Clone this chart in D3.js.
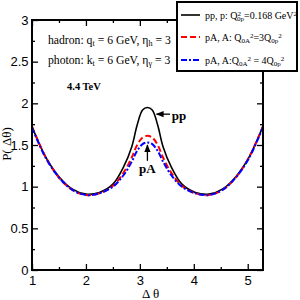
<!DOCTYPE html>
<html>
<head>
<meta charset="utf-8">
<script src="https://cdn.jsdelivr.net/npm/d3@7"></script>
<style>
  body { margin: 0; background: #fff; }
  svg { font-family: "Liberation Serif", "Times New Roman", serif; }
</style>
</head>
<body>
<svg id="chart" width="300" height="300"></svg>
<script>
// delta theta sample points
var dtheta = [1.0, 1.25, 1.5, 1.75, 2.0, 2.25, 2.5, 2.7, 2.85, 2.95, 3.05, 3.14,
              3.23, 3.33, 3.43, 3.58, 3.78, 4.03, 4.28, 4.53, 4.78, 5.03, 5.28];
var ppVals = [1.72, 1.36, 1.12, 0.97, 0.91, 0.93, 1.03, 1.24, 1.48, 1.74, 1.92, 1.95,
              1.92, 1.74, 1.48, 1.24, 1.03, 0.93, 0.91, 0.97, 1.12, 1.36, 1.72];
var pA3Vals = [1.72, 1.36, 1.11, 0.96, 0.90, 0.92, 1.01, 1.17, 1.35, 1.50, 1.59, 1.61,
               1.59, 1.50, 1.35, 1.17, 1.01, 0.92, 0.90, 0.96, 1.11, 1.36, 1.72];
var pA4Vals = [1.71, 1.35, 1.11, 0.96, 0.90, 0.92, 1.00, 1.14, 1.30, 1.43, 1.51, 1.53,
               1.51, 1.43, 1.30, 1.14, 1.00, 0.92, 0.90, 0.96, 1.11, 1.35, 1.71];
var xTicks = [1, 2, 3, 4, 5];
var yTicks = [0, 0.5, 1, 1.5, 2, 2.5, 3];

var svg = d3.select("#chart");
var margin = {top: 20, right: 37, bottom: 30, left: 32};
var width = 300 - margin.left - margin.right;
var height = 300 - margin.top - margin.bottom;
var g = svg.append("g").attr("transform", "translate(" + margin.left + "," + margin.top + ")");

var x = d3.scaleLinear().domain([1, 2 * Math.PI - 1]).range([0, width]);
var y = d3.scaleLinear().domain([0, 3]).range([height, 0]);

var series = [
    {vals: ppVals, color: "#000", dash: null, w: 1.6},
    {vals: pA3Vals, color: "#ff0000", dash: "6,3", w: 2},
    {vals: pA4Vals, color: "#0000ff", dash: "6,2,2,2", w: 2}
];

var line = d3.line()
    .x(function (d) { return x(d[0]); })
    .y(function (d) { return y(d[1]); })
    .curve(d3.curveCatmullRom.alpha(0.5));

g.append("defs").append("clipPath").attr("id", "clip")
    .append("rect").attr("width", width).attr("height", height);

series.forEach(function (s) {
    g.append("path")
        .datum(dtheta.map(function (t, i) { return [t, s.vals[i]]; }))
        .attr("clip-path", "url(#clip)")
        .attr("fill", "none")
        .attr("stroke", s.color)
        .attr("stroke-width", s.w)
        .attr("stroke-dasharray", s.dash)
        .attr("d", line);
});

// axes: ticks inside on all four sides
var xMinor = d3.range(1.5, 5.3, 1);
var yMinor = d3.range(0.25, 3, 0.5);

function tickStyle(sel) {
    sel.select(".domain").remove();
    sel.selectAll("line").attr("stroke", "#000").attr("stroke-width", 1.3);
    sel.selectAll("text").style("font-size", "13px").attr("fill", "#000");
}

g.append("g").attr("transform", "translate(0," + height + ")")
    .call(d3.axisBottom(x).tickValues(xTicks).tickSize(-6).tickPadding(6).tickFormat(d3.format("d")))
    .call(tickStyle);
g.append("g").attr("transform", "translate(0," + height + ")")
    .call(d3.axisBottom(x).tickValues(xMinor).tickSize(-3).tickFormat(""))
    .call(tickStyle);
g.append("g")
    .call(d3.axisTop(x).tickValues(xTicks).tickSize(-6).tickFormat(""))
    .call(tickStyle);
g.append("g")
    .call(d3.axisTop(x).tickValues(xMinor).tickSize(-3).tickFormat(""))
    .call(tickStyle);
g.append("g")
    .call(d3.axisLeft(y).tickValues(yTicks).tickSize(-6).tickPadding(3.5).tickFormat(d3.format("")))
    .call(tickStyle);
g.append("g")
    .call(d3.axisLeft(y).tickValues(yMinor).tickSize(-3).tickFormat(""))
    .call(tickStyle);
g.append("g").attr("transform", "translate(" + width + ",0)")
    .call(d3.axisRight(y).tickValues(yTicks).tickSize(-6).tickFormat(""))
    .call(tickStyle);
g.append("g").attr("transform", "translate(" + width + ",0)")
    .call(d3.axisRight(y).tickValues(yMinor).tickSize(-3).tickFormat(""))
    .call(tickStyle);

g.append("rect")
    .attr("width", width).attr("height", height)
    .attr("fill", "none").attr("stroke", "#000").attr("stroke-width", 2);

// axis titles
svg.append("text")
    .attr("transform", "translate(11," + (margin.top + height / 2 - 1) + ") rotate(-90)")
    .attr("text-anchor", "middle")
    .style("font-size", "13px")
    .text("P( \u0394\u03b8)");
svg.append("text")
    .attr("x", margin.left + x(3.2))
    .attr("y", 298)
    .attr("text-anchor", "middle")
    .style("font-size", "13px")
    .text("\u0394 \u03b8");

// annotations
function subText(parent, xp, yp, parts, size) {
    var t = parent.append("text").attr("x", xp).attr("y", yp).style("font-size", size + "px");
    parts.forEach(function (p) {
        var ts = t.append("tspan").text(p[0]);
        if (p[1] === "sub") ts.attr("baseline-shift", "-30%").style("font-size", (size * 0.7) + "px");
        if (p[1] === "sup") ts.attr("baseline-shift", "45%").style("font-size", (size * 0.7) + "px");
        if (p[2] !== undefined) ts.attr("dx", p[2]);
    });
    return t;
}

subText(g, 16, 24, [["hadron: q"], ["t", "sub"], [" = 6 GeV, \u03b7"], ["h", "sub"], [" = 3"]], 11.7);
subText(g, 16, 44, [["photon: k"], ["t", "sub"], [" = 6 GeV, \u03b7"], ["\u03b3", "sub"], [" = 3"]], 11.7);
g.append("text").attr("x", 35).attr("y", 70)
    .style("font-size", "10.5px").style("font-weight", "bold").text("4.4 TeV");

// peak labels with arrows
svg.append("defs").append("marker")
    .attr("id", "arrow").attr("viewBox", "0 0 10 10")
    .attr("refX", 9).attr("refY", 5)
    .attr("markerWidth", 6).attr("markerHeight", 6)
    .attr("orient", "auto")
    .append("path").attr("d", "M0,1 L10,5 L0,9 z").attr("fill", "#000");

g.append("line")
    .attr("x1", x(3.56)).attr("y1", y(1.87))
    .attr("x2", x(3.31)).attr("y2", y(1.87))
    .attr("stroke", "#000").attr("stroke-width", 1.3)
    .attr("marker-end", "url(#arrow)");
g.append("text").attr("x", x(3.59)).attr("y", y(1.80))
    .style("font-size", "13px").style("font-weight", "bold").text("pp");

g.append("line")
    .attr("x1", x(3.14)).attr("y1", y(1.31))
    .attr("x2", x(3.14)).attr("y2", y(1.50))
    .attr("stroke", "#000").attr("stroke-width", 1.3)
    .attr("marker-end", "url(#arrow)");
g.append("text").attr("x", x(3.14)).attr("y", y(1.17))
    .attr("text-anchor", "middle")
    .style("font-size", "13px").style("font-weight", "bold").text("pA");

// legend
var lg = svg.append("g");
lg.append("rect")
    .attr("x", 177).attr("y", 2).attr("width", 120).attr("height", 69)
    .attr("fill", "#fff").attr("stroke", "#000").attr("stroke-width", 2);

var legendRows = [
    {y: 16, s: series[0]},
    {y: 38, s: series[1]},
    {y: 61, s: series[2]}
];
legendRows.forEach(function (r) {
    lg.append("line")
        .attr("x1", 181).attr("x2", 200)
        .attr("y1", r.y - 1).attr("y2", r.y - 1)
        .attr("stroke", r.s.color).attr("stroke-width", r.s.w)
        .attr("stroke-dasharray", r.s.dash);
});

subText(lg, 205, 19, [["pp, p: Q"], ["2", "sup"], ["0p", "sub", -4], ["=0.168 GeV"], ["2", "sup"]], 10);
subText(lg, 205, 41, [["pA, A: Q"], ["0A", "sub"], ["2", "sup"], ["=3Q"], ["0p", "sub"], ["2", "sup"]], 10);
subText(lg, 205, 64, [["pA, A:Q"], ["0A", "sub"], ["2", "sup"], [" = 4Q"], ["0p", "sub"], ["2", "sup"]], 10);
</script>
</body>
</html>
